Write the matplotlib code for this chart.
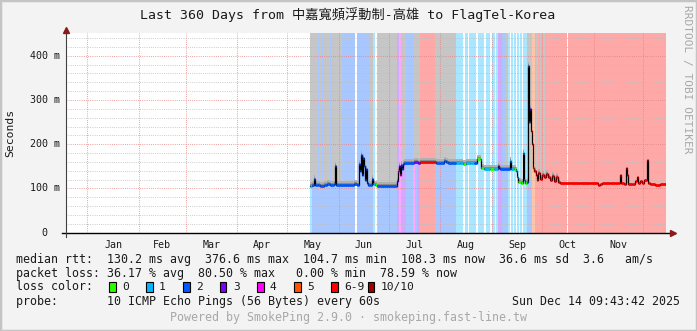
import matplotlib
matplotlib.use('Agg')
import matplotlib.pyplot as plt
import matplotlib.transforms as mtransforms
from matplotlib.collections import LineCollection
from matplotlib.colors import to_rgb
from matplotlib.patches import Rectangle
import numpy as np
import pandas as pd

W, H = 697, 331
START = pd.Timestamp('2024-12-19 09:43:42')
SPAN_DAYS = 360
Y_MAX = 451.5

LOSS_COLORS = ['#26ff00', '#00b8ff', '#0059ff', '#7e00ff',
               '#ff00ff', '#ff5500', '#ff0000', '#a10000']
LOSS_LABELS = ['0', '1', '2', '3', '4', '5', '6-9', '10/10']

# median rtt (ms), x = days since START, with loss colour index
MED_DAY = [146.2, 147.4, 148.6, 149.2, 151.0, 152.2, 154.6, 156.4, 158.2, 160.6,
           161.2, 161.8, 164.2, 167.2, 170.2, 172.6, 174.4, 175.6, 176.2, 176.8,
           177.4, 178.0, 178.6, 179.2, 179.8, 180.4, 181.0, 182.2, 183.4, 184.0,
           185.2, 186.4, 188.2, 191.2, 194.2, 197.8, 198.4, 199.0, 199.6, 200.2,
           200.8, 201.4, 202.0, 202.6, 206.2, 208.6, 211.0, 212.2, 217.0, 220.6,
           221.8, 224.2, 226.6, 227.8, 229.0, 231.5, 233.9, 236.3, 238.1, 239.9,
           242.3, 244.7, 246.5, 248.3, 248.9, 250.7, 254.3, 256.7, 259.1, 259.7,
           260.3, 263.3, 266.3, 266.9, 268.7, 269.9, 270.5, 271.1, 272.9, 274.1,
           274.7, 275.3, 276.5, 277.1, 277.7, 278.3, 278.9, 279.5, 280.1, 280.7,
           281.9, 282.5, 283.1, 284.3, 285.5, 286.7, 287.9, 289.1, 290.3, 291.5,
           292.7, 293.9, 295.1, 296.3, 299.3, 302.3, 308.3, 314.3, 318.5, 319.1,
           320.3, 321.5, 326.3, 329.3, 331.1, 332.3, 332.9, 334.7, 335.9, 336.5,
           337.1, 339.5, 341.3, 342.5, 343.1, 344.4, 345.6, 346.8, 348.6, 349.2,
           350.4, 353.4, 356.4, 360.0]
MED_MS = [106, 107, 122, 108, 108, 106, 108, 110, 108, 109,
          150, 108, 107, 107, 108, 110, 107, 155, 140, 175,
          130, 170, 150, 120, 145, 112, 108, 107, 122, 110,
          108, 106, 106, 106, 106, 106, 118, 140, 150, 130,
          152, 145, 155, 158, 158, 159, 158, 160, 160, 159,
          158, 158, 163, 159, 158, 158, 157, 157, 156, 158,
          158, 157, 166, 166, 146, 144, 144, 145, 150, 146,
          145, 145, 162, 145, 144, 140, 125, 115, 112, 180,
          120, 112, 115, 376, 250, 280, 230, 200, 146, 140,
          130, 120, 135, 122, 130, 125, 132, 126, 120, 128,
          118, 125, 115, 113, 112, 112, 112, 112, 112, 107,
          110, 113, 112, 112, 112, 130, 112, 110, 146, 130,
          110, 110, 118, 125, 112, 118, 112, 120, 164, 112,
          110, 108, 109, 108]
MED_LOSS = [1, 2, 2, 2, 2, 2, 2, 2, 2, 2,
            2, 2, 2, 2, 2, 2, 2, 2, 2, 2,
            2, 2, 2, 2, 2, 2, 2, 2, 2, 1,
            0, 2, 2, 2, 2, 2, 3, 4, 3, 4,
            2, 2, 2, 2, 2, 3, 3, 6, 6, 6,
            2, 2, 2, 2, 2, 2, 1, 1, 0, 1,
            1, 2, 0, 0, 0, 1, 0, 1, 3, 3,
            2, 2, 1, 1, 0, 1, 1, 0, 0, 1,
            1, 0, 2, 2, 2, 3, 6, 6, 5, 6,
            6, 6, 6, 6, 6, 6, 6, 6, 6, 6,
            6, 6, 6, 6, 6, 6, 6, 6, 6, 6,
            6, 6, 6, 6, 6, 6, 6, 6, 6, 6,
            6, 6, 6, 6, 6, 6, 6, 6, 6, 6,
            6, 6, 6, 6]

# full-height loss background
BAND_START = [146.2, 147.5, 174.4, 184.0, 186.4, 187.0, 198.4, 199.6, 200.8, 203.9,
              208.0, 209.5, 210.7, 212.2, 221.2, 233.8, 239.3, 241.7, 247.1, 251.9,
              255.5, 257.9, 259.1, 261.5, 265.1, 266.9, 268.7, 270.5, 272.3, 274.1,
              276.5, 279.5, 281.3, 301.1]
BAND_END = [147.5, 173.2, 184.0, 185.2, 187.0, 198.4, 199.6, 200.8, 203.9, 208.0,
            209.5, 210.7, 212.2, 221.2, 233.8, 238.1, 241.1, 245.9, 250.7, 254.3,
            257.3, 259.1, 261.5, 265.1, 266.3, 268.1, 269.9, 271.7, 273.5, 276.5,
            279.5, 281.3, 300.5, 360.0]
BAND_LOSS = [1, 2, 2, 1, 4, 2, 3, 4, 3, 2,
             4, 2, 3, 6, 2, 1, 1, 1, 1, 1,
             1, 1, 3, 2, 1, 1, 1, 1, 1, 1,
             2, 5, 6, 6]

# grey ceiling above the smoke
GREY_START = [146.2, 151.6, 154.0, 155.8, 158.8, 160.6, 182.2, 187.0, 200.8, 208.0,
              221.2, 263.3, 276.5, 281.9, 284.3, 286.1]
GREY_END = [151.0, 153.4, 155.2, 158.2, 160.0, 165.4, 184.0, 198.4, 203.9, 212.2,
            233.8, 265.1, 279.5, 283.1, 284.9, 287.3]
GREY_FLOOR = [112, 112, 112, 112, 112, 112, 118, 110, 162, 162,
              162, 150, 120, 132, 132, 132]

Y_TICKS = [0, 100, 200, 300, 400]
Y_TICK_LABELS = ['0', '100 m', '200 m', '300 m', '400 m']
MONTHS = ['Jan', 'Feb', 'Mar', 'Apr', 'May', 'Jun', 'Jul', 'Aug', 'Sep', 'Oct', 'Nov']

TITLE = 'Last 360 Days from 中嘉寬頻浮動制-高雄 to FlagTel-Korea'
RTT_LINE = 'median rtt:  130.2 ms avg  376.6 ms max  104.7 ms min  108.3 ms now  36.6 ms sd  3.6   am/s'
LOSS_LINE = 'packet loss: 36.17 % avg  80.50 % max   0.00 % min  78.59 % now'
PROBE_LINE = 'probe:       10 ICMP Echo Pings (56 Bytes) every 60s'
STAMP = 'Sun Dec 14 09:43:42 2025'
FOOTER = 'Powered by SmokePing 2.9.0 · smokeping.fast-line.tw'

MONO = ['DejaVu Sans Mono', 'Noto Sans CJK TC']
TXT = '#1a1a1a'


def tint(c, a=0.34):
    rgb = np.array(to_rgb(c))
    return tuple(1 - a * (1 - rgb))


def fy(y):
    # pixel row -> figure fraction
    return 1 - y / H


plt.rcParams['font.family'] = MONO

fig = plt.figure(figsize=(W / 100, H / 100), dpi=100)
fig.patch.set_facecolor('#f3f3f3')

left, right, top, bottom = 66.3, 665.8, 33.0, 232.7
ax = fig.add_axes([left / W, 1 - bottom / H, (right - left) / W, (bottom - top) / H])
ax.set_facecolor('white')
ax.set_xlim(0, SPAN_DAYS)
ax.set_ylim(0, Y_MAX)
for s in ax.spines.values():
    s.set_visible(False)

# loss background
for s, e, l in zip(BAND_START, BAND_END, BAND_LOSS):
    ax.axvspan(s, e, color=tint(LOSS_COLORS[l]), lw=0, zorder=0.5)
for s, e, f in zip(GREY_START, GREY_END, GREY_FLOOR):
    ax.fill_between([s, e], [f, f], [Y_MAX, Y_MAX], color='#c6c6c6', lw=0, zorder=0.6)

# grid
month_starts = [(pd.Timestamp(2025, m, 1) - START) / pd.Timedelta(days=1) for m in range(1, 13)]
month_mids = []
for m in range(1, 12):
    a = pd.Timestamp(2025, m, 1)
    b = pd.Timestamp(2025, m + 1, 1)
    month_mids.append(((a - START) + (b - a) / 2) / pd.Timedelta(days=1))

for v in range(20, 450, 20):
    if v % 100:
        ax.axhline(v, color='#bcbcbc', lw=0.6, ls=(0, (1, 1.6)), zorder=1.5)
for v in Y_TICKS[1:]:
    ax.axhline(v, color='#e38080', lw=0.6, ls=(0, (1, 1.6)), zorder=1.6)
for d in month_starts:
    ax.axvline(d, color='#e38080', lw=0.6, ls=(0, (1, 1.6)), zorder=1.6)

# smoke
d = np.array(MED_DAY)
m = np.array(MED_MS, dtype=float)
sel = d <= 296.3
ax.fill_between(d[sel], m[sel] + 4, m[sel] + 9, step='post', color='#b0b0b0', lw=0, zorder=2)
ax.fill_between(d[sel], m[sel] - 1.5, m[sel] + 4.5, step='post', color='#8a8a8a', lw=0, zorder=2.1)

# median line
ax.step(d, m, where='post', color='black', lw=0.9, zorder=3)
segs = [[(d[i], m[i]), (d[i + 1], m[i])] for i in range(len(d) - 1)]
cols = [LOSS_COLORS[l] for l in MED_LOSS[:-1]]
ax.add_collection(LineCollection(segs, colors=cols, linewidths=2.0, zorder=4, capstyle='butt'))

# axes lines and arrows
ax.plot([-0.007, 1.01], [0, 0], transform=ax.transAxes, color='black', lw=1.0,
        clip_on=False, zorder=5)
ax.plot([0, 0], [-0.02, 1.01], transform=ax.transAxes, color='#404040', lw=0.8,
        clip_on=False, zorder=5)
ax.plot([1.012], [0], marker='>', ms=4.5, color='#8b1a1a', transform=ax.transAxes,
        clip_on=False, zorder=6)
ax.plot([0], [1.016], marker='^', ms=4.5, color='#8b1a1a', transform=ax.transAxes,
        clip_on=False, zorder=6)

# ticks
ax.set_yticks([])
ax.set_xticks(month_mids, MONTHS)
ax.tick_params(axis='x', length=0, pad=5.5, labelsize=7.2, labelcolor=TXT)
trans = mtransforms.blended_transform_factory(fig.transFigure, ax.transData)
for v, lab in zip(Y_TICKS, Y_TICK_LABELS):
    if v == 0:
        ax.text(44 / W, v, lab, transform=trans, ha='center', va='center',
                fontsize=7.2, color=TXT, clip_on=False)
    else:
        ax.text(60 / W, v, lab, transform=trans, ha='right', va='center',
                fontsize=7.2, color=TXT, clip_on=False)

fig.text(10 / W, fy(133), 'Seconds', rotation=90, ha='center', va='center',
         fontsize=8.2, color=TXT)

# title and side label
fig.text(348 / W, fy(15), TITLE, ha='center', va='center', fontsize=9.5,
         color=TXT, family=MONO)
fig.text(686.7 / W, fy(5), 'RRDTOOL / TOBI OETIKER', rotation=270, ha='center',
         va='top', fontsize=8, color='#a8a8a8')

# legend block
fig.text(16 / W, fy(259.3), RTT_LINE, ha='left', va='center', fontsize=8.4, color=TXT)
fig.text(16 / W, fy(273.3), LOSS_LINE, ha='left', va='center', fontsize=8.4, color=TXT)
fig.text(16 / W, fy(286.7), 'loss color:', ha='left', va='center', fontsize=8.4, color=TXT)
for i, (c, lab) in enumerate(zip(LOSS_COLORS, LOSS_LABELS)):
    x0 = 109 + 37 * i
    fig.add_artist(Rectangle((x0 / W, fy(292)), 6.5 / W, 10.5 / H, transform=fig.transFigure,
                             facecolor=c, edgecolor='black', lw=0.8))
    fig.text((x0 + 13) / W, fy(286.7), lab, ha='left', va='center', fontsize=8.1, color=TXT)
fig.text(16 / W, fy(301.7), PROBE_LINE, ha='left', va='center', fontsize=8.4, color=TXT)
fig.text(680 / W, fy(301.7), STAMP, ha='right', va='center', fontsize=8.4, color=TXT)
fig.text(348.5 / W, fy(318), FOOTER, ha='center', va='center', fontsize=8.4, color='#a8a8a8')

# image frame
fig.add_artist(Rectangle((0, 0), 1, 1, transform=fig.transFigure, fill=False,
                         edgecolor='#c4c4c4', lw=2.5))

fig.savefig('out.png', dpi=100, facecolor=fig.get_facecolor())
